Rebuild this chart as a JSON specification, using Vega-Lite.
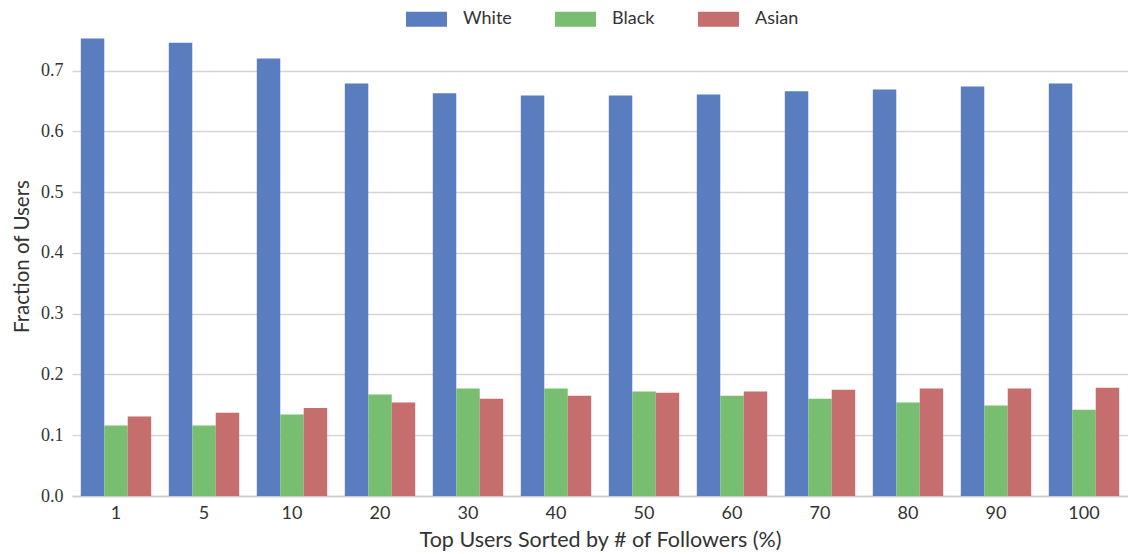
{
  "$schema": "https://vega.github.io/schema/vega-lite/v6.json",
  "width": 1056,
  "height": 480,
  "autosize": {"type": "none"},
  "padding": {"left": 72, "top": 16, "right": 0, "bottom": 58},
  "background": "white",
  "config": {"view": {"stroke": null}},
  "data": {
    "values": [
      {"pct": 1, "group": "White", "frac": 0.753}, {"pct": 1, "group": "Black", "frac": 0.116}, {"pct": 1, "group": "Asian", "frac": 0.131},
      {"pct": 5, "group": "White", "frac": 0.746}, {"pct": 5, "group": "Black", "frac": 0.116}, {"pct": 5, "group": "Asian", "frac": 0.137},
      {"pct": 10, "group": "White", "frac": 0.720}, {"pct": 10, "group": "Black", "frac": 0.134}, {"pct": 10, "group": "Asian", "frac": 0.145},
      {"pct": 20, "group": "White", "frac": 0.679}, {"pct": 20, "group": "Black", "frac": 0.167}, {"pct": 20, "group": "Asian", "frac": 0.154},
      {"pct": 30, "group": "White", "frac": 0.663}, {"pct": 30, "group": "Black", "frac": 0.177}, {"pct": 30, "group": "Asian", "frac": 0.160},
      {"pct": 40, "group": "White", "frac": 0.659}, {"pct": 40, "group": "Black", "frac": 0.177}, {"pct": 40, "group": "Asian", "frac": 0.165},
      {"pct": 50, "group": "White", "frac": 0.659}, {"pct": 50, "group": "Black", "frac": 0.172}, {"pct": 50, "group": "Asian", "frac": 0.170},
      {"pct": 60, "group": "White", "frac": 0.661}, {"pct": 60, "group": "Black", "frac": 0.165}, {"pct": 60, "group": "Asian", "frac": 0.172},
      {"pct": 70, "group": "White", "frac": 0.666}, {"pct": 70, "group": "Black", "frac": 0.160}, {"pct": 70, "group": "Asian", "frac": 0.175},
      {"pct": 80, "group": "White", "frac": 0.669}, {"pct": 80, "group": "Black", "frac": 0.154}, {"pct": 80, "group": "Asian", "frac": 0.177},
      {"pct": 90, "group": "White", "frac": 0.674}, {"pct": 90, "group": "Black", "frac": 0.149}, {"pct": 90, "group": "Asian", "frac": 0.177},
      {"pct": 100, "group": "White", "frac": 0.679}, {"pct": 100, "group": "Black", "frac": 0.142}, {"pct": 100, "group": "Asian", "frac": 0.178}
    ]
  },
  "mark": {"type": "bar"},
  "encoding": {
    "x": {
      "field": "pct",
      "type": "ordinal",
      "scale": {"paddingInner": 0.2, "paddingOuter": 0.1},
      "axis": {
        "title": "Top Users Sorted by # of Followers (%)",
        "labelAngle": 0,
        "labelFont": "Lato",
        "labelFontSize": 18,
        "labelColor": "#333333",
        "labelPadding": 8,
        "ticks": false,
        "domainColor": "#cccccc",
        "domainWidth": 1.3,
        "titleFont": "Lato",
        "titleFontSize": 21.5,
        "titleFontWeight": "normal",
        "titleColor": "#333333",
        "titlePadding": 7
      }
    },
    "xOffset": {
      "field": "group",
      "type": "nominal",
      "sort": ["White", "Black", "Asian"],
      "scale": {"paddingInner": 0, "paddingOuter": 0}
    },
    "y": {
      "field": "frac",
      "type": "quantitative",
      "scale": {"domain": [0, 0.79], "nice": false},
      "axis": {
        "title": "Fraction of Users",
        "values": [0, 0.1, 0.2, 0.3, 0.4, 0.5, 0.6, 0.7],
        "format": ".1f",
        "labelFont": "Liberation Serif",
        "labelFontSize": 18,
        "labelColor": "#333333",
        "labelPadding": 9,
        "ticks": false,
        "domain": false,
        "gridColor": "#d5d5d5",
        "gridWidth": 1.3,
        "titleFont": "Lato",
        "titleFontSize": 20.5,
        "titleFontWeight": "normal",
        "titleColor": "#333333",
        "titlePadding": 8
      }
    },
    "color": {
      "field": "group",
      "type": "nominal",
      "sort": ["White", "Black", "Asian"],
      "scale": {"domain": ["White", "Black", "Asian"], "range": ["#5a7dc0", "#78be70", "#c66d6d"]},
      "legend": {
        "title": null,
        "orient": "none",
        "direction": "horizontal",
        "legendX": 334,
        "legendY": -17.5,
        "symbolType": "M-1,-0.366H1V0.366H-1Z",
        "symbolSize": 1681,
        "symbolStrokeWidth": 0,
        "symbolOpacity": 1,
        "labelFont": "Lato",
        "labelFontSize": 18,
        "labelColor": "#333333",
        "labelOffset": 16,
        "columnPadding": 43
      }
    }
  }
}
